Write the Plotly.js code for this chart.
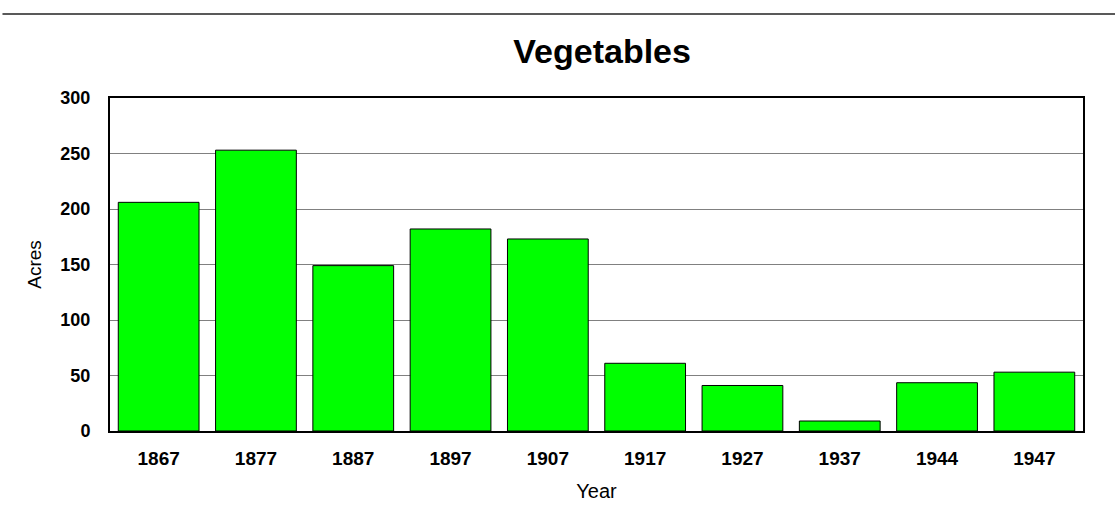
<!DOCTYPE html>
<html>
<head>
<meta charset="utf-8">
<script src="https://cdn.plot.ly/plotly-3.0.1.min.js"></script>
<style>html,body{margin:0;padding:0;background:#fff;}#chart{width:1115px;height:510px;}</style>
</head>
<body>
<div id="chart"></div>
<script>
const years = ["1867","1877","1887","1897","1907","1917","1927","1937","1944","1947"];
const acres = [206, 253, 149, 182, 173, 61, 41, 9, 43.5, 53];

const trace = {
  type: 'bar',
  x: years,
  y: acres,
  marker: {color: '#00ff00', line: {color: '#000000', width: 1}},
  hoverinfo: 'x+y'
};

const layout = {
  width: 1115, height: 510,
  margin: {l: 110, r: 32, t: 97.5, b: 79},
  paper_bgcolor: '#ffffff', plot_bgcolor: '#ffffff',
  bargap: 0.17,
  showlegend: false,
  font: {family: 'Arial, Liberation Sans, sans-serif', color: '#000'},
  title: {text: '<b>Vegetables</b>', font: {size: 34, color: '#000'}, x: 0.54, xanchor: 'center', y: 0.9, yanchor: 'middle'},
  xaxis: {
    type: 'category',
    title: {text: 'Year', font: {size: 20}, standoff: 16},
    tickfont: {size: 19},
    ticks: '', showline: true, linecolor: '#000', linewidth: 2,
    mirror: true, showgrid: false, ticklabelstandoff: 9
  },
  yaxis: {
    title: {text: 'Acres', font: {size: 19}, standoff: 14},
    range: [0, 300], dtick: 50,
    tickfont: {size: 18},
    tickprefix: '<b>', ticksuffix: '</b>',
    ticks: '', showline: true, linecolor: '#000', linewidth: 2, mirror: true,
    showgrid: true, gridcolor: '#808080', gridwidth: 1,
    zeroline: false, ticklabelstandoff: 14
  },
  shapes: [
    {type: 'line', xref: 'paper', yref: 'paper', x0: -0.1105, x1: 1.033, y0: 1.252, y1: 1.252, line: {color: '#222', width: 1.5}}
  ]
};
layout.xaxis.tickvals = years;
layout.xaxis.ticktext = years.map(y => '<b>' + y + '</b>');

Plotly.newPlot('chart', [trace], layout, {displayModeBar: false, staticPlot: true});
</script>
</body>
</html>
